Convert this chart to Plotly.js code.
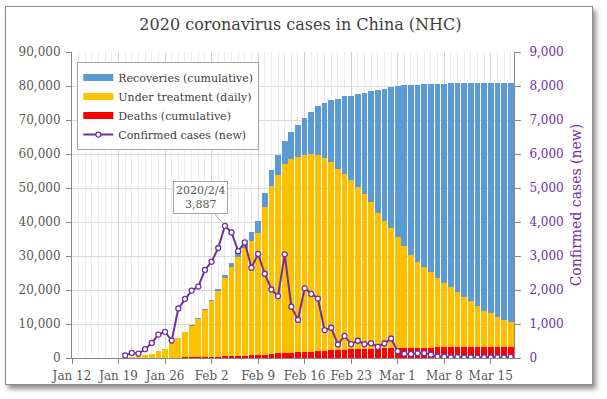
<!DOCTYPE html>
<html>
<head>
<meta charset="utf-8">
<script src="https://cdn.plot.ly/plotly-3.0.1.min.js"></script>
<style>
  html, body { margin: 0; padding: 0; background: #ffffff; width: 607px; height: 399px; overflow: hidden; }
  #frame { position: absolute; left: 5px; top: 6px; width: 586px; height: 377px; border: 1px solid #8c8c8c; background: #ffffff; box-shadow: 3px 4px 5px rgba(0,0,0,0.45); }
  #chart { position: absolute; left: 0; top: 0; width: 607px; height: 399px; }
</style>
</head>
<body>
<div id="frame"></div>
<div id="chart"></div>
<script>
// ---- data ----
const dates = [
  '2020-01-20','2020-01-21','2020-01-22','2020-01-23','2020-01-24','2020-01-25','2020-01-26','2020-01-27','2020-01-28','2020-01-29','2020-01-30','2020-01-31',
  '2020-02-01','2020-02-02','2020-02-03','2020-02-04','2020-02-05','2020-02-06','2020-02-07','2020-02-08','2020-02-09','2020-02-10',
  '2020-02-11','2020-02-12','2020-02-13','2020-02-14','2020-02-15','2020-02-16','2020-02-17','2020-02-18','2020-02-19','2020-02-20',
  '2020-02-21','2020-02-22','2020-02-23','2020-02-24','2020-02-25','2020-02-26','2020-02-27','2020-02-28','2020-02-29',
  '2020-03-01','2020-03-02','2020-03-03','2020-03-04','2020-03-05','2020-03-06','2020-03-07','2020-03-08','2020-03-09',
  '2020-03-10','2020-03-11','2020-03-12','2020-03-13','2020-03-14','2020-03-15','2020-03-16','2020-03-17','2020-03-18'
];
const deaths = [6,9,17,25,41,56,80,106,132,170,213,259,
  304,361,425,490,563,636,722,811,908,1016,1113,1367,1380,1523,1665,1770,1868,2004,2118,2236,2345,2442,2592,2663,2715,2744,2788,2835,2870,
  2912,2943,2981,3012,3042,3070,3097,3119,3136,3158,3169,3176,3189,3199,3213,3226,3237,3245];
const underTreatment = [260,406,526,771,1208,1870,2613,4349,5739,7417,9308,11289,
  13748,16369,19381,22942,26302,28985,31774,33738,35982,43488,49347,52526,55748,56873,57416,57934,58016,57805,56727,55300,53284,51606,49824,47672,45604,43258,39919,37414,35329,
  32652,30004,27433,25352,23784,22177,20533,19016,17721,16145,14831,13526,12094,10734,9898,8976,8056,7263];
const recoveries = [25,25,28,34,38,49,51,60,103,124,171,243,
  328,475,632,892,1153,1540,2050,2649,3281,3996,4740,5911,6723,8096,9419,10844,12552,14376,16155,18264,20659,22888,24734,27323,29745,32495,36117,39002,41625,
  44462,47204,49856,52045,53726,55404,57065,58600,59897,61475,62793,64111,65541,66911,67749,68679,69601,70420];
const newCases = [77,149,131,259,444,688,769,515,1459,1737,1982,2102,
  2590,2829,3235,3887,3694,3143,3399,2656,3062,2478,2015,1820,3050,1510,1121,2048,1886,1749,820,889,397,648,409,508,406,433,327,427,573,
  202,125,119,139,143,99,44,40,19,24,15,20,11,20,16,21,13,34];
const tickVals = ['2020-01-12','2020-01-19','2020-01-26','2020-02-02','2020-02-09','2020-02-16','2020-02-23','2020-03-01','2020-03-08','2020-03-15'];
const tickLabels = ['Jan 12','Jan 19','Jan 26','Feb 2','Feb 9','Feb 16','Feb 23','Mar 1','Mar 8','Mar 15'];
const peakDate = '2020-02-04';
const peakValue = 3887;

const BLUE = '#5B9BD5', YELLOW = '#FFC000', RED = '#FF0000', PURPLE = '#7030A0';

const traces = [
  {type:'bar', name:'Deaths (cumulative)', x:dates, y:deaths, marker:{color:RED}, showlegend:false, hoverinfo:'x+y'},
  {type:'bar', name:'Under treatment (daily)', x:dates, y:underTreatment, marker:{color:YELLOW}, showlegend:false, hoverinfo:'x+y'},
  {type:'bar', name:'Recoveries (cumulative)', x:dates, y:recoveries, marker:{color:BLUE}, showlegend:false, hoverinfo:'x+y'},
  {type:'scatter', mode:'lines+markers', name:'Confirmed cases (new)', x:dates, y:newCases, yaxis:'y2',
   line:{color:PURPLE, width:2}, marker:{symbol:'circle', size:5, color:'#ffffff', line:{color:PURPLE, width:1.3}},
   legendrank:4},
  // legend-only swatches
  {type:'scatter', mode:'lines', name:'Recoveries (cumulative)', x:[null], y:[null], line:{color:BLUE, width:7}, legendrank:1, hoverinfo:'skip'},
  {type:'scatter', mode:'lines', name:'Under treatment (daily)', x:[null], y:[null], line:{color:YELLOW, width:7}, legendrank:2, hoverinfo:'skip'},
  {type:'scatter', mode:'lines', name:'Deaths (cumulative)', x:[null], y:[null], line:{color:RED, width:7}, legendrank:3, hoverinfo:'skip'}
];

const axisGray = '#868686';
const layout = {
  width:607, height:399,
  margin:{l:72, r:93, t:52, b:41, pad:0},
  paper_bgcolor:'rgba(0,0,0,0)', plot_bgcolor:'#ffffff',
  font:{family:'DejaVu Serif, serif', size:12, color:'#595959'},
  title:{text:'2020 coronavirus cases in China (NHC)', font:{size:16, color:'#404040'},
         xref:'container', x:0.495, xanchor:'center', yref:'container', y:0.94, yanchor:'middle'},
  barmode:'stack', bargap:0.14,
  showlegend:true,
  legend:{x:0.012, y:0.967, xanchor:'left', yanchor:'top', bgcolor:'#ffffff', bordercolor:'#a6a6a6', borderwidth:1,
          font:{size:11, color:'#404040'}, traceorder:'normal', itemwidth:30},
  xaxis:{type:'date', range:['2020-01-12','2020-03-18 12:00'], tickmode:'array', tickvals:tickVals, ticktext:tickLabels,
         ticks:'outside', ticklen:5, tickcolor:axisGray, showline:true, linecolor:axisGray, linewidth:1,
         showgrid:true, gridcolor:'#d4d4d4', zeroline:false, ticklabelstandoff:2,
         minor:{dtick:86400000, tick0:'2020-01-12', showgrid:true, gridcolor:'#ececec', ticks:''}},
  yaxis:{range:[0,90000], dtick:10000, tickformat:',', ticks:'outside', ticklen:5, tickcolor:axisGray,
         showline:true, linecolor:axisGray, showgrid:true, gridcolor:'#d9d9d9', zeroline:false, ticklabelstandoff:3},
  yaxis2:{overlaying:'y', side:'right', range:[0,9000], dtick:1000, tickformat:',', ticks:'outside', ticklen:6, tickcolor:axisGray,
          showline:true, linecolor:axisGray, showgrid:false, zeroline:false, tickfont:{color:PURPLE}, ticklabelstandoff:6,
          title:{text:'Confirmed cases (new)', font:{color:PURPLE, size:14}, standoff:8}},
  annotations:[{x:peakDate, y:peakValue, xref:'x', yref:'y2', text:'2020/2/4<br>3,887',
    showarrow:true, arrowhead:0, arrowwidth:1, arrowcolor:'#a6a6a6', ax:-24, ay:-28, standoff:3,
    bgcolor:'#ffffff', bordercolor:'#a6a6a6', borderwidth:1, borderpad:2,
    font:{size:11, color:'#595959'}}]
};

Plotly.newPlot('chart', traces, layout, {displayModeBar:false, staticPlot:true});
</script>
</body>
</html>
